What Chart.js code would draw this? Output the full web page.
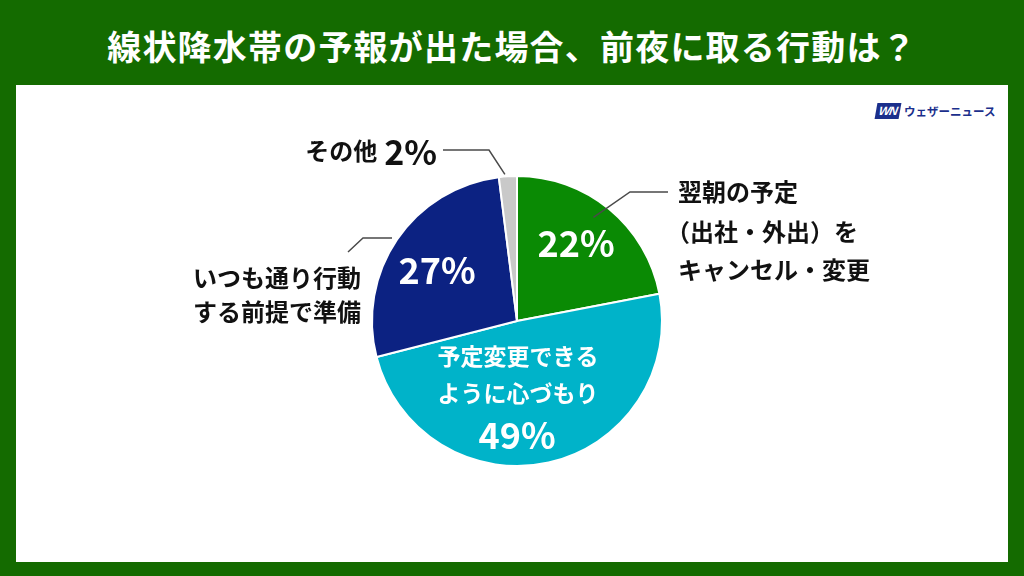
<!DOCTYPE html>
<html>
<head>
<meta charset="utf-8">
<script src="https://cdn.jsdelivr.net/npm/chart.js@4"></script>
<style>
  html, body { margin: 0; padding: 0; }
  body {
    width: 1024px; height: 576px; overflow: hidden; position: relative;
    background: #146b00;
    font-family: "Noto Sans CJK JP", "Noto Sans", sans-serif;
  }
  #title {
    position: absolute; left: 0; top: 21px; width: 1024px; text-align: center;
    color: #fff; font-size: 34px; font-weight: 700; letter-spacing: 1.2px;
  }
  #panel {
    position: absolute; left: 16px; top: 85px; width: 992px; height: 477px;
    background: #fff;
  }
  #logo {
    position: absolute; left: 876px; top: 101px; height: 20px;
    display: flex; align-items: center; color: #1b2f8c;
    font-size: 11.5px; font-weight: 700;
  }
  #logo .wn {
    display: inline-block; background: #1b2f8c; color: #fff; font-style: italic;
    font-family: "Liberation Sans", sans-serif; font-size: 12px; font-weight: 700;
    padding: 1px 3px; margin-right: 4px; transform: skewX(-10deg); letter-spacing: -1px;
  }
  #wrap { position: absolute; left: 0; top: 0; width: 1024px; height: 576px; }
</style>
</head>
<body>
<div id="title">線状降水帯の予報が出た場合、前夜に取る行動は？</div>
<div id="panel"></div>
<div id="logo"><span class="wn">WN</span>ウェザーニュース</div>
<div id="wrap"><canvas id="pie"></canvas></div>
<script>
// answers, clockwise from the top
const categories = [
  '翌朝の予定（出社・外出）をキャンセル・変更',
  '予定変更できるように心づもり',
  'いつも通り行動する前提で準備',
  'その他'
];
const shares = [22, 49, 27, 2];
const sliceColors = ['#0a8a04', '#00b3c9', '#0c2282', '#c9c9c9'];

const FONT = '"Noto Sans CJK JP", "Noto Sans", sans-serif';

// labels drawn after the arcs
const labelPlugin = {
  id: 'pieLabels',
  afterDatasetsDraw(chart) {
    const ctx = chart.ctx;
    const arcs = chart.getDatasetMeta(0).data;
    const cx = arcs[0].x, cy = arcs[0].y, r = arcs[0].outerRadius;

    function edge(i) {
      const a = (arcs[i].startAngle + arcs[i].endAngle) / 2;
      return [cx + Math.cos(a) * r, cy + Math.sin(a) * r, a];
    }
    function leader(pts) {
      ctx.save();
      ctx.strokeStyle = '#4a4a4a';
      ctx.lineWidth = 1.5;
      ctx.beginPath();
      ctx.moveTo(pts[0][0], pts[0][1]);
      for (let k = 1; k < pts.length; k++) ctx.lineTo(pts[k][0], pts[k][1]);
      ctx.stroke();
      ctx.restore();
    }

    ctx.save();
    ctx.textBaseline = 'middle';

    // inside: 22%
    ctx.fillStyle = '#fff';
    ctx.textAlign = 'center';
    ctx.font = 'bold 36px ' + FONT;
    ctx.fillText(shares[0] + '%', cx + 59, cy - 78);
    // inside: 27%
    ctx.fillText(shares[2] + '%', cx - 80, cy - 51);
    // inside: 49% with text
    ctx.font = 'bold 23px ' + FONT;
    ctx.fillText('予定変更できる', cx + 1, cy + 35);
    ctx.fillText('ように心づもり', cx + 1, cy + 72);
    ctx.font = 'bold 36px ' + FONT;
    ctx.fillText(shares[1] + '%', cx, cy + 114);

    // outside: green slice
    ctx.fillStyle = '#111';
    ctx.textAlign = 'left';
    const g = edge(0);
    leader([[g[0] - 16, g[1] + 8], [cx + 113, cy - 129], [cx + 151, cy - 129]]);
    ctx.font = 'bold 24px ' + FONT;
    ctx.fillText('翌朝の予定', cx + 161, cy - 129);
    ctx.fillText('（出社・外出）を', cx + 149, cy - 89);
    ctx.fillText('キャンセル・変更', cx + 161, cy - 51);

    // outside: navy slice
    leader([[cx - 169, cy - 69], [cx - 154, cy - 83], [cx - 125, cy - 83]]);
    ctx.textAlign = 'right';
    ctx.fillText('いつも通り行動', cx - 156, cy - 43);
    ctx.fillText('する前提で準備', cx - 156, cy - 9);

    // outside: gray slice
    const o = edge(3);
    leader([[o[0] - 3, o[1] - 2], [cx - 28, cy - 171], [cx - 74, cy - 171]]);
    ctx.font = 'bold 34px ' + FONT;
    const pct = shares[3] + '%';
    const pw = ctx.measureText(pct).width;
    ctx.fillText(pct, cx - 80, cy - 169);
    ctx.font = 'bold 24px ' + FONT;
    ctx.fillText('その他', cx - 80 - pw - 7, cy - 170);

    ctx.restore();
  }
};

window.onload = function () {
  const ctx = document.getElementById('pie').getContext('2d');
  new Chart(ctx, {
    type: 'pie',
    data: {
      labels: categories,
      datasets: [{
        data: shares,
        backgroundColor: sliceColors,
        borderColor: '#ffffff',
        borderWidth: 2
      }]
    },
    options: {
      responsive: true,
      maintainAspectRatio: false,
      animation: false,
      layout: { padding: { left: 371, right: 361, top: 175, bottom: 109 } },
      plugins: {
        legend: { display: false },
        tooltip: { enabled: false }
      }
    },
    plugins: [labelPlugin]
  });
};
</script>
</body>
</html>
